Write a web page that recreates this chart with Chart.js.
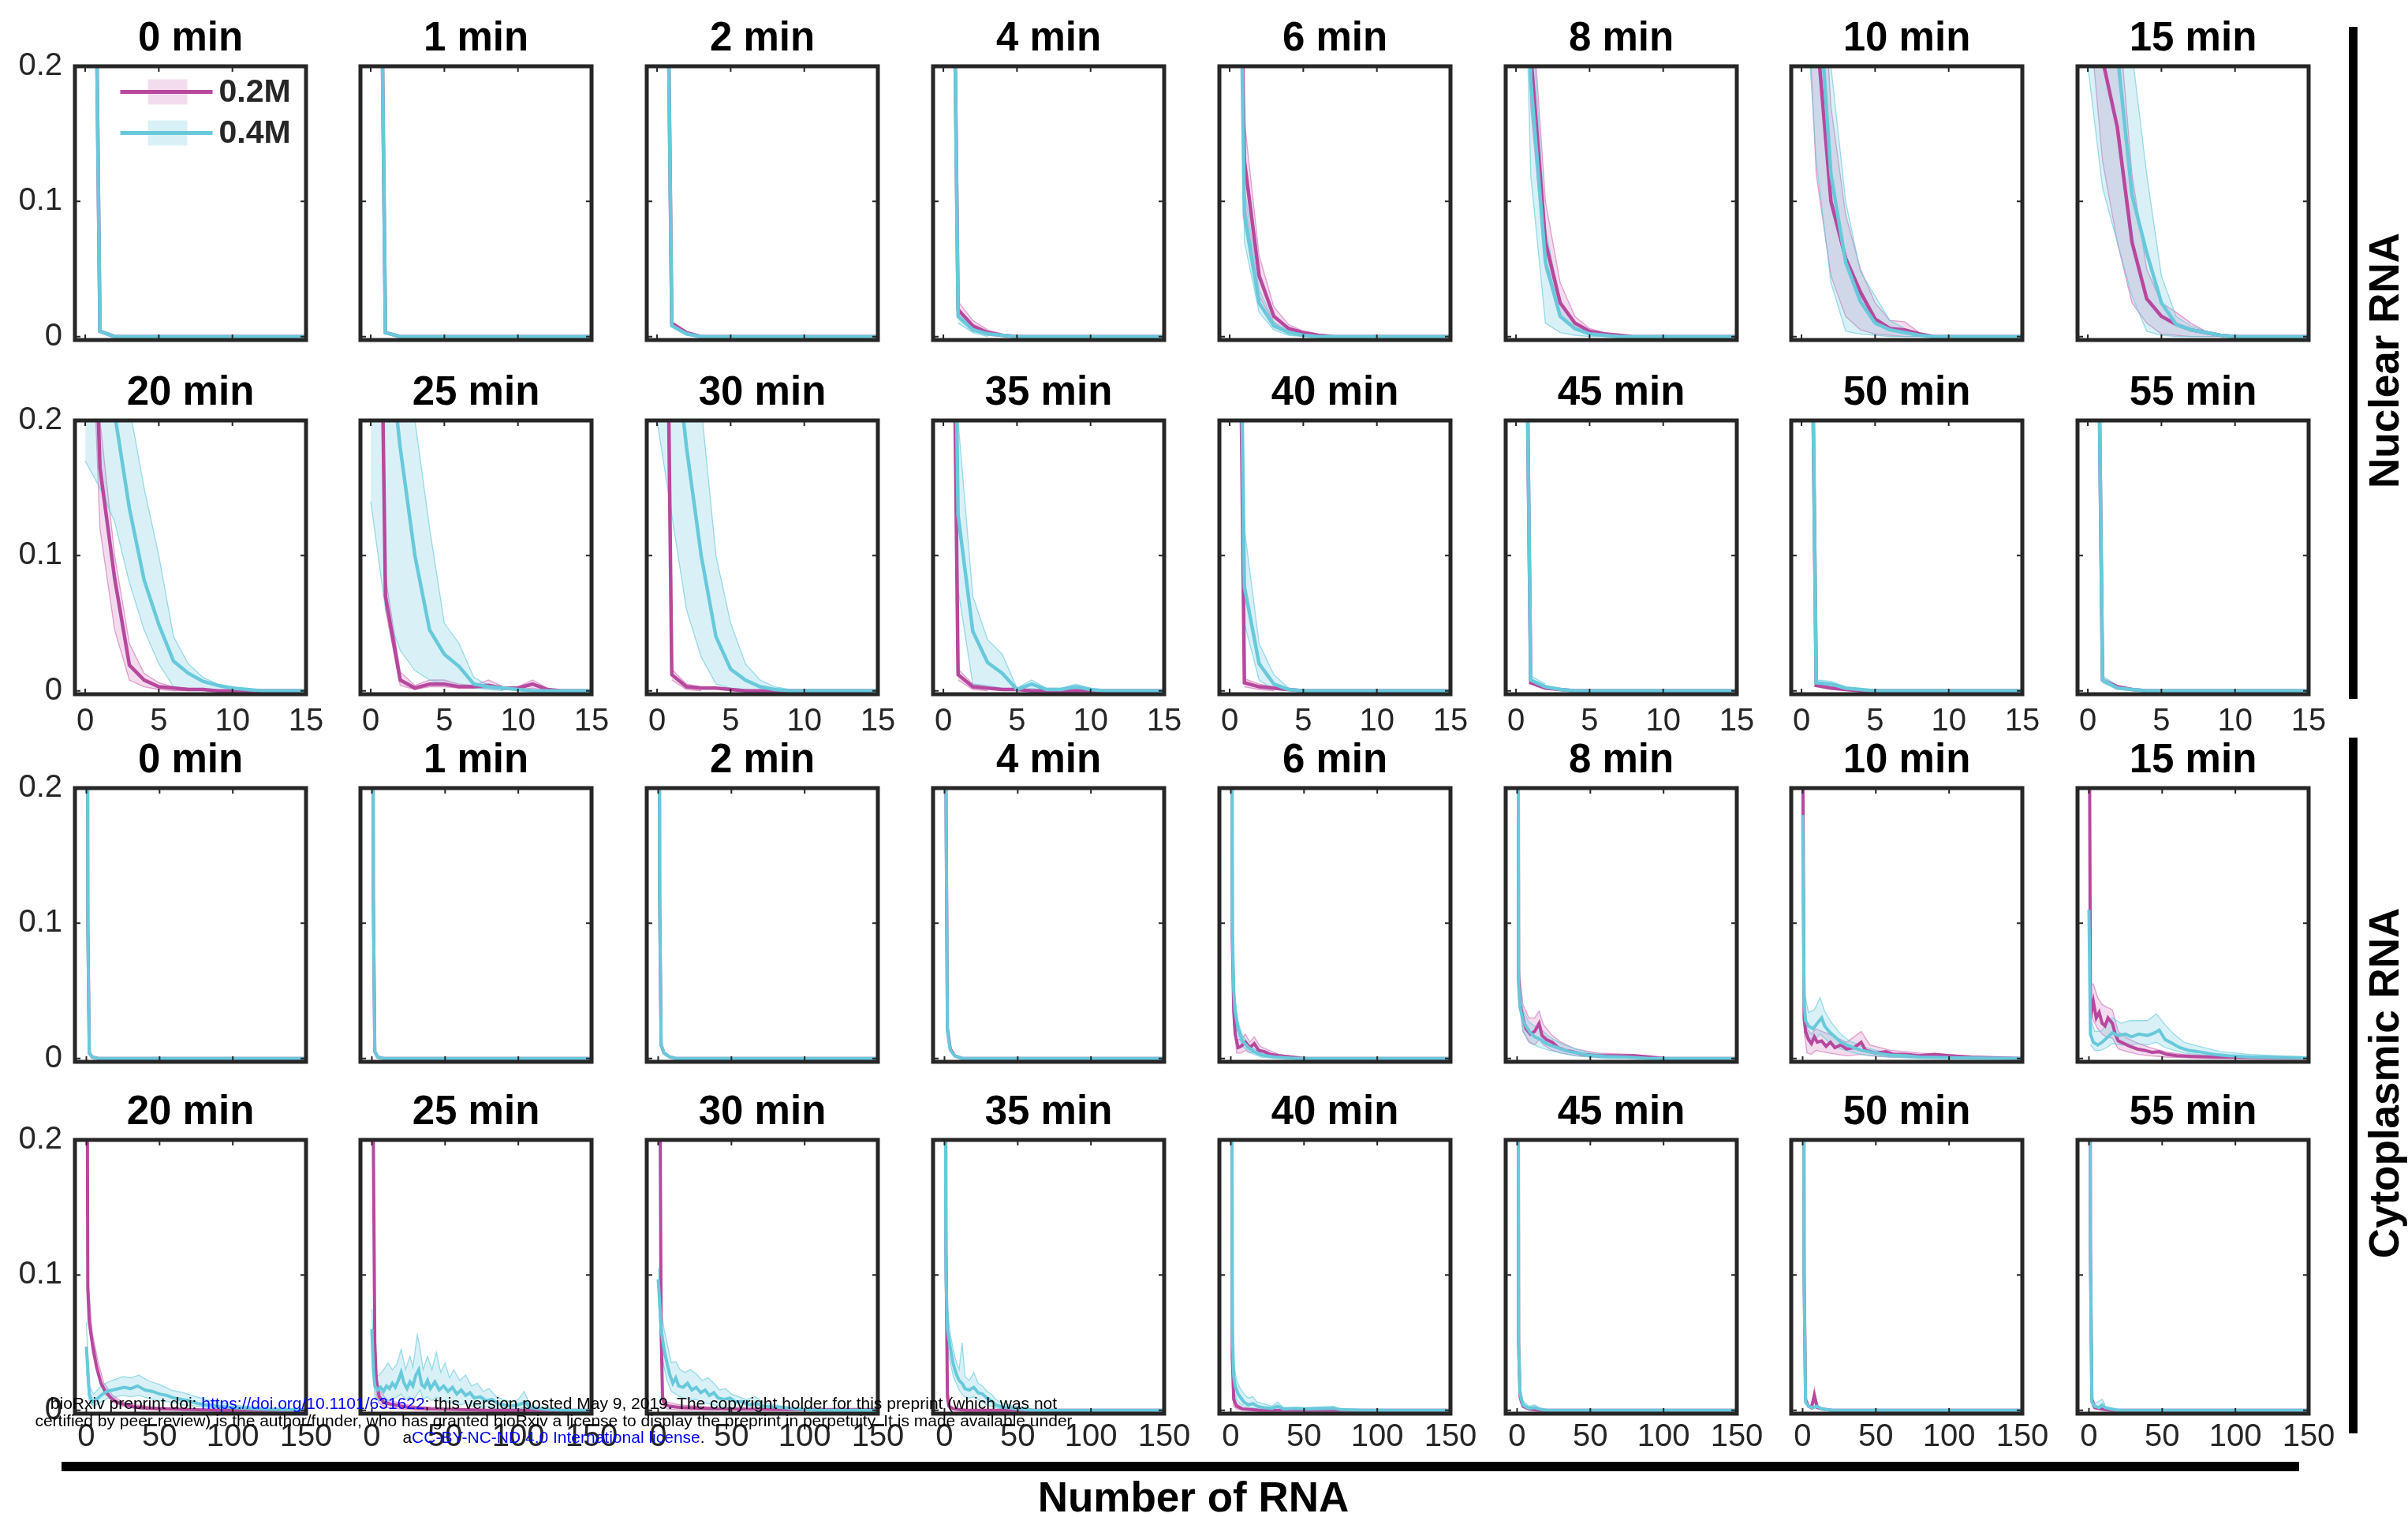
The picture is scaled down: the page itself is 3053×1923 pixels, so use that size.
<!DOCTYPE html>
<html>
<head>
<meta charset="utf-8">
<script src="https://cdn.jsdelivr.net/npm/chart.js@4.4.1/dist/chart.umd.min.js"></script>
<style>
  body { margin: 0; background: #fff; }
  #fig { position: relative; width: 3053px; height: 1923px; overflow: hidden; background: #fff;
         font-family: 'Liberation Sans', Arial, Helvetica, sans-serif; }
  #fig canvas { position: absolute; }
  .bar { position: absolute; background: #000; }
  .side { position: absolute; font-weight: bold; font-size: 53px; white-space: nowrap; color: #000;
          transform: translate(-50%, -50%) rotate(-90deg); }
  .xlabel { position: absolute; font-weight: bold; font-size: 53px; white-space: nowrap; color: #000;
            transform: translate(-50%, -50%); }
  .stamp { position: absolute; left: 0; width: 1404px; text-align: center; font-size: 21px; line-height: 21.5px;
           color: #000; white-space: nowrap; z-index: 5; }
  .stamp a { color: #0000ff; text-decoration: none; }
</style>
</head>
<body>
<div id="fig">
  <div class="bar" style="left:2978px;top:34px;width:11px;height:852px;"></div>
  <div class="side" style="left:3022px;top:457px;">Nuclear RNA</div>
  <div class="bar" style="left:2978px;top:935px;width:11px;height:882px;"></div>
  <div class="side" style="left:3022px;top:1373px;">Cytoplasmic RNA</div>
  <div class="bar" style="left:78px;top:1853px;width:2837px;height:12px;"></div>
  <div class="xlabel" style="left:1513px;top:1897px;">Number of RNA</div>
  <div class="stamp" style="top:1768px;">bioRxiv preprint doi: <a href="#">https://doi.org/10.1101/631622</a>; this version posted May 9, 2019. The copyright holder for this preprint (which was not<br>certified by peer review) is the author/funder, who has granted bioRxiv a license to display the preprint in perpetuity. It is made available under<br>a<a href="#">CC-BY-NC-ND 4.0 International license</a>.</div>
</div>
<script>
// panel titles, ticks, series names
var times = ['0 min','1 min','2 min','4 min','6 min','8 min','10 min','15 min',
             '20 min','25 min','30 min','35 min','40 min','45 min','50 min','55 min'];
var nucTicks = [0, 5, 10, 15];
var cytTicks = [0, 50, 100, 150];
var yTicks = [0, 0.1, 0.2];
var seriesNames = ['0.2M', '0.4M'];

// Nuclear RNA, mean curves as [x, y] (0.2M = A, 0.4M = B)
var nucMeanA = [
  [[0,0.99],[1,0.004],[2,0],[15,0]],
  [[0,0.99],[1,0.003],[2,0],[15,0]],
  [[0,0.98],[1,0.01],[2,0.003],[3,0],[15,0]],
  [[0,0.96],[1,0.02],[2,0.008],[3,0.003],[4,0.001],[5,0],[15,0]],
  [[0,0.75],[1,0.13],[2,0.045],[3,0.015],[4,0.006],[5,0.003],[6,0.001],[7,0],[15,0]],
  [[0,0.6],[1,0.21],[2,0.07],[3,0.025],[4,0.01],[5,0.004],[6,0.002],[7,0.001],[8,0],[15,0]],
  [[0,0.45],[1,0.23],[2,0.10],[3,0.058],[4,0.033],[5,0.013],[6,0.006],[7,0.005],[8,0.002],[9,0],[15,0]],
  [[0,0.3],[1,0.205],[2,0.155],[3,0.07],[4,0.028],[5,0.015],[6,0.009],[7,0.005],[8,0.003],[9,0.001],[10,0],[15,0]],
  [[0,0.5],[1,0.165],[2,0.083],[3,0.019],[4,0.008],[5,0.003],[6,0.002],[7,0.001],[8,0.001],[9,0],[15,0]],
  [[0,0.85],[1,0.07],[2,0.008],[3,0.002],[4,0.005],[5,0.005],[6,0.003],[7,0.003],[8,0.004],[9,0.002],[10,0.002],[11,0.005],[12,0.001],[13,0],[15,0]],
  [[0,0.95],[1,0.012],[2,0.003],[3,0.002],[4,0.002],[5,0.001],[6,0],[15,0]],
  [[0,0.95],[1,0.012],[2,0.003],[3,0.002],[4,0.001],[5,0.001],[6,0],[15,0]],
  [[0,0.97],[1,0.006],[2,0.003],[3,0.002],[4,0.001],[5,0],[15,0]],
  [[0,0.97],[1,0.006],[2,0.002],[3,0.001],[4,0],[15,0]],
  [[0,0.97],[1,0.004],[2,0.002],[3,0.001],[4,0],[15,0]],
  [[0,0.97],[1,0.008],[2,0.003],[3,0.001],[4,0],[15,0]]
];
var nucMeanB = [
  [[0,0.99],[1,0.004],[2,0],[15,0]],
  [[0,0.99],[1,0.003],[2,0],[15,0]],
  [[0,0.98],[1,0.008],[2,0.002],[3,0],[15,0]],
  [[0,0.97],[1,0.015],[2,0.005],[3,0.002],[4,0.001],[5,0],[15,0]],
  [[0,0.8],[1,0.09],[2,0.025],[3,0.008],[4,0.003],[5,0.001],[6,0],[15,0]],
  [[0,0.65],[1,0.19],[2,0.055],[3,0.015],[4,0.006],[5,0.002],[6,0.001],[7,0],[15,0]],
  [[0,0.4],[1,0.28],[2,0.12],[3,0.055],[4,0.026],[5,0.01],[6,0.005],[7,0.003],[8,0.001],[9,0],[15,0]],
  [[0,0.25],[1,0.3],[2,0.21],[3,0.105],[4,0.062],[5,0.025],[6,0.009],[7,0.005],[8,0.003],[9,0.001],[10,0],[15,0]],
  [[0,0.25],[1,0.28],[2,0.205],[3,0.135],[4,0.082],[5,0.049],[6,0.022],[7,0.013],[8,0.007],[9,0.004],[10,0.002],[11,0.001],[12,0],[15,0]],
  [[0,0.3],[1,0.28],[2,0.18],[3,0.1],[4,0.045],[5,0.027],[6,0.018],[7,0.005],[8,0.003],[9,0.002],[10,0.001],[11,0],[15,0]],
  [[0,0.3],[1,0.28],[2,0.18],[3,0.1],[4,0.04],[5,0.016],[6,0.008],[7,0.003],[8,0.001],[9,0],[15,0]],
  [[0,0.9],[1,0.13],[2,0.044],[3,0.021],[4,0.013],[5,0.001],[6,0.005],[7,0.001],[8,0.001],[9,0.003],[10,0.001],[11,0],[15,0]],
  [[0,0.9],[1,0.077],[2,0.02],[3,0.005],[4,0.001],[5,0],[15,0]],
  [[0,0.97],[1,0.008],[2,0.003],[3,0.001],[4,0],[15,0]],
  [[0,0.97],[1,0.006],[2,0.005],[3,0.002],[4,0.001],[5,0],[15,0]],
  [[0,0.97],[1,0.008],[2,0.002],[3,0.001],[4,0],[15,0]]
];
// Nuclear RNA, spread bands as [x, low, high]
var nucBandA = [
  [], [], [],
  [[1,0.015,0.026],[2,0.005,0.012],[3,0.001,0.005],[4,0,0.002]],
  [[0,0.7,0.8],[1,0.10,0.16],[2,0.03,0.06],[3,0.01,0.022],[4,0.003,0.009],[5,0.001,0.004],[6,0,0.002],[7,0,0.001]],
  [[0,0.55,0.65],[1,0.17,0.26],[2,0.05,0.10],[3,0.015,0.04],[4,0.005,0.015],[5,0.002,0.006],[6,0,0.003],[7,0,0.001]],
  [[0,0.35,0.55],[1,0.12,0.35],[2,0.045,0.17],[3,0.015,0.09],[4,0.005,0.05],[5,0.002,0.025],[6,0.001,0.012],[7,0,0.011],[8,0,0.003]],
  [[0,0.25,0.35],[1,0.13,0.3],[2,0.07,0.25],[3,0.025,0.12],[4,0.01,0.05],[5,0.002,0.025],[6,0.001,0.018],[7,0,0.01],[8,0,0.004],[9,0,0.002]],
  [[0,0.4,0.6],[1,0.12,0.2],[2,0.045,0.1],[3,0.008,0.035],[4,0.003,0.013],[5,0.001,0.006],[6,0,0.003],[7,0,0.002]],
  [[0,0.8,0.9],[1,0.06,0.085],[2,0.004,0.014],[3,0.001,0.004],[4,0.003,0.008],[5,0.003,0.008],[6,0.002,0.005],[7,0.002,0.004],[8,0.002,0.008],[9,0.001,0.003],[10,0.001,0.003],[11,0.002,0.008],[12,0,0.002]],
  [[1,0.008,0.016],[2,0.001,0.005],[3,0,0.003]],
  [[1,0.008,0.016],[2,0.001,0.005],[3,0,0.003]],
  [[1,0.003,0.009],[2,0.001,0.005],[3,0,0.003]],
  [], [], []
];
var nucBandB = [
  [], [], [],
  [[1,0.01,0.02],[2,0.003,0.008],[3,0,0.004]],
  [[0,0.75,0.85],[1,0.07,0.11],[2,0.018,0.035],[3,0.005,0.011],[4,0.001,0.004],[5,0,0.002]],
  [[0,0.55,0.75],[1,0.12,0.25],[2,0.01,0.08],[3,0.003,0.025],[4,0.001,0.01],[5,0,0.004],[6,0,0.002]],
  [[0,0.3,0.5],[1,0.13,0.4],[2,0.04,0.2],[3,0.004,0.1],[4,0.002,0.048],[5,0.001,0.03],[6,0,0.012],[7,0,0.006],[8,0,0.002]],
  [[0,0.2,0.3],[1,0.11,0.4],[2,0.07,0.35],[3,0.03,0.21],[4,0.004,0.12],[5,0.001,0.045],[6,0,0.015],[7,0,0.008],[8,0,0.004],[9,0,0.002]],
  [[0,0.17,0.4],[1,0.15,0.4],[2,0.125,0.3],[3,0.08,0.21],[4,0.045,0.15],[5,0.02,0.1],[6,0.003,0.04],[7,0.001,0.02],[8,0,0.01],[9,0,0.005],[10,0,0.003],[11,0,0.001]],
  [[0,0.14,0.5],[1,0.06,0.5],[2,0.03,0.35],[3,0.015,0.2],[4,0.008,0.12],[5,0.005,0.05],[6,0.003,0.035],[7,0.002,0.01],[8,0.001,0.004],[9,0,0.002]],
  [[0,0.2,0.45],[1,0.13,0.45],[2,0.06,0.3],[3,0.025,0.21],[4,0.005,0.1],[5,0.002,0.05],[6,0.001,0.02],[7,0,0.008],[8,0,0.003],[9,0,0.001]],
  [[0,0.85,0.95],[1,0.075,0.2],[2,0.005,0.07],[3,0.004,0.038],[4,0.002,0.027],[5,0,0.002],[6,0.002,0.008],[7,0,0.002],[8,0,0.002],[9,0.001,0.005],[10,0,0.002]],
  [[0,0.88,0.92],[1,0.05,0.12],[2,0.008,0.035],[3,0.001,0.012],[4,0,0.002]],
  [[1,0.005,0.011],[2,0.001,0.005]],
  [[1,0.004,0.008],[2,0.003,0.007],[3,0.001,0.003]],
  [[1,0.006,0.011],[2,0.001,0.004]]
];

// Cytoplasmic RNA, mean curves as [x, y]
var cytMeanA = [
  [[0,0.97],[1,0.1],[2,0.004],[4,0.001],[8,0],[150,0]],
  [[0,0.96],[1,0.12],[2,0.005],[4,0.001],[8,0],[150,0]],
  [[0,0.95],[1,0.12],[2,0.01],[4,0.004],[8,0.001],[12,0],[150,0]],
  [[0,0.9],[1,0.2],[2,0.022],[4,0.007],[7,0.002],[12,0],[150,0]],
  [[0,0.9],[1,0.09],[2,0.035],[3,0.018],[5,0.008],[7,0.009],[10,0.012],[13,0.008],[16,0.011],[19,0.006],[23,0.005],[27,0.003],[33,0.002],[42,0.001],[50,0],[150,0]],
  [[0,0.85],[1,0.06],[2,0.04],[4,0.03],[6,0.022],[9,0.018],[12,0.02],[15,0.026],[17,0.017],[20,0.014],[24,0.012],[28,0.008],[33,0.006],[38,0.005],[45,0.003],[55,0.002],[65,0.002],[80,0.002],[90,0.001],[100,0],[150,0]],
  [[0,0.25],[1,0.03],[2,0.02],[4,0.014],[6,0.011],[8,0.016],[10,0.012],[13,0.013],[16,0.009],[19,0.012],[22,0.008],[26,0.01],[30,0.007],[35,0.008],[40,0.012],[43,0.006],[50,0.004],[57,0.005],[62,0.003],[70,0.003],[80,0.002],[90,0.003],[100,0.002],[115,0.001],[130,0.0005],[150,0]],
  [[0,0.35],[1,0.045],[2,0.036],[3,0.042],[5,0.03],[7,0.034],[9,0.026],[11,0.024],[13,0.03],[16,0.026],[18,0.018],[20,0.013],[24,0.011],[28,0.009],[33,0.007],[38,0.006],[43,0.0045],[48,0.005],[53,0.003],[60,0.002],[70,0.0015],[85,0.001],[100,0.0008],[120,0.0005],[150,0.0003]],
  [[0,0.5],[1,0.09],[2,0.065],[4,0.05],[7,0.032],[10,0.02],[13,0.014],[17,0.009],[21,0.006],[27,0.004],[33,0.0025],[42,0.0015],[55,0.001],[70,0.0005],[90,0],[150,0]],
  [[0,0.8],[1,0.2],[2,0.05],[3,0.022],[5,0.01],[8,0.006],[13,0.0045],[20,0.003],[26,0.002],[40,0.001],[60,0.0005],[80,0],[150,0]],
  [[0,0.9],[1,0.3],[2,0.06],[3,0.008],[5,0.004],[8,0.003],[15,0.002],[40,0.001],[80,0.0005],[150,0.0005]],
  [[0,0.9],[1,0.12],[2,0.01],[3,0.003],[6,0.001],[15,0],[150,0]],
  [[0,0.7],[1,0.04],[2,0.008],[4,0.003],[8,0.001],[20,0],[150,0]],
  [[0,0.95],[1,0.05],[2,0.01],[4,0.003],[8,0.001],[15,0],[150,0]],
  [[0,0.95],[1,0.1],[2,0.008],[4,0.003],[6,0.002],[8,0.011],[10,0.002],[13,0.001],[20,0],[150,0]],
  [[0,0.95],[1,0.12],[2,0.008],[4,0.002],[8,0.001],[15,0],[150,0]]
];
var cytMeanB = [
  [[0,0.97],[1,0.1],[2,0.004],[4,0.001],[8,0],[150,0]],
  [[0,0.96],[1,0.12],[2,0.005],[4,0.001],[8,0],[150,0]],
  [[0,0.95],[1,0.12],[2,0.01],[4,0.004],[8,0.001],[12,0],[150,0]],
  [[0,0.9],[1,0.2],[2,0.02],[4,0.006],[7,0.002],[12,0],[150,0]],
  [[0,0.9],[1,0.1],[2,0.05],[3,0.035],[5,0.022],[8,0.013],[12,0.008],[16,0.005],[21,0.0025],[30,0.001],[45,0],[150,0]],
  [[0,0.85],[1,0.055],[2,0.038],[4,0.028],[6,0.024],[9,0.019],[12,0.016],[16,0.014],[20,0.011],[25,0.009],[30,0.007],[36,0.005],[42,0.004],[48,0.0025],[60,0.0015],[75,0.001],[90,0],[150,0]],
  [[0,0.18],[1,0.04],[2,0.028],[4,0.024],[7,0.022],[10,0.026],[13,0.03],[15,0.024],[18,0.02],[22,0.016],[26,0.012],[30,0.01],[35,0.008],[40,0.006],[50,0.004],[60,0.0025],[70,0.002],[80,0.001],[100,0.0005],[150,0]],
  [[0,0.11],[1,0.018],[3,0.012],[6,0.01],[9,0.012],[12,0.015],[16,0.019],[20,0.017],[25,0.018],[29,0.016],[34,0.018],[40,0.017],[45,0.019],[48,0.021],[52,0.014],[57,0.011],[62,0.008],[68,0.006],[75,0.005],[85,0.003],[95,0.002],[110,0.0012],[125,0.0008],[150,0.0004]],
  [[0,0.047],[1,0.03],[2,0.012],[4,0.006],[7,0.008],[10,0.011],[14,0.014],[18,0.015],[22,0.016],[26,0.017],[30,0.016],[35,0.018],[40,0.015],[45,0.014],[50,0.012],[55,0.011],[60,0.009],[65,0.008],[70,0.007],[76,0.005],[82,0.004],[90,0.003],[100,0.002],[115,0.001],[130,0.0006],[150,0.0003]],
  [[0,0.06],[1,0.03],[2,0.018],[4,0.015],[6,0.017],[8,0.014],[10,0.018],[12,0.016],[14,0.02],[16,0.017],[18,0.022],[20,0.028],[22,0.02],[24,0.016],[26,0.021],[28,0.018],[30,0.026],[32,0.03],[34,0.019],[36,0.017],[38,0.022],[40,0.016],[43,0.021],[46,0.015],[49,0.018],[52,0.014],[55,0.017],[58,0.012],[61,0.015],[64,0.011],[67,0.013],[70,0.009],[74,0.01],[78,0.007],[82,0.008],[86,0.005],[90,0.004],[95,0.003],[100,0.004],[105,0.006],[108,0.002],[115,0.001],[130,0],[150,0]],
  [[0,0.097],[1,0.08],[2,0.06],[4,0.045],[6,0.035],[8,0.026],[10,0.02],[12,0.024],[14,0.018],[17,0.017],[20,0.02],[23,0.015],[26,0.017],[29,0.013],[32,0.015],[35,0.011],[38,0.013],[41,0.009],[45,0.008],[49,0.009],[53,0.006],[57,0.0065],[62,0.004],[67,0.005],[72,0.003],[78,0.0025],[85,0.002],[95,0.001],[110,0],[150,0]],
  [[0,0.5],[1,0.1],[2,0.06],[4,0.046],[6,0.034],[8,0.027],[10,0.022],[12,0.02],[14,0.016],[17,0.015],[20,0.017],[23,0.013],[26,0.012],[29,0.009],[32,0.007],[35,0.004],[38,0.003],[42,0.002],[50,0.001],[60,0],[150,0]],
  [[0,0.8],[1,0.06],[2,0.025],[3,0.018],[5,0.012],[7,0.009],[9,0.006],[12,0.004],[15,0.005],[18,0.003],[22,0.002],[28,0.0015],[32,0.003],[36,0.001],[45,0.0015],[52,0.001],[70,0.0015],[75,0.0005],[90,0],[150,0]],
  [[0,0.95],[1,0.05],[2,0.012],[4,0.004],[8,0.0015],[12,0.002],[15,0.001],[20,0],[150,0]],
  [[0,0.95],[1,0.1],[2,0.006],[4,0.003],[7,0.002],[10,0.003],[13,0.001],[20,0],[150,0]],
  [[0,0.95],[1,0.12],[2,0.006],[4,0.003],[7,0.002],[9,0.004],[11,0.002],[15,0.001],[20,0],[150,0]]
];
// Cytoplasmic RNA, spread bands as [x, low, high]
var cytBandA = [
  [], [], [], [],
  [[1,0.07,0.11],[2,0.025,0.045],[4,0.004,0.014],[7,0.004,0.014],[10,0.006,0.018],[13,0.004,0.012],[16,0.005,0.016],[20,0.003,0.009],[26,0.002,0.006],[33,0.001,0.003],[45,0,0.001]],
  [[1,0.05,0.07],[4,0.02,0.04],[8,0.012,0.03],[12,0.01,0.03],[15,0.014,0.035],[18,0.01,0.025],[24,0.006,0.017],[30,0.004,0.012],[40,0.002,0.007],[55,0.001,0.004],[80,0.001,0.003],[100,0,0.001]],
  [[1,0.02,0.04],[3,0.004,0.022],[6,0.003,0.018],[9,0.006,0.022],[13,0.005,0.02],[18,0.004,0.018],[24,0.003,0.015],[30,0.002,0.012],[40,0.003,0.02],[46,0.002,0.01],[60,0.001,0.006],[80,0.0005,0.004],[100,0,0.003],[120,0,0.001]],
  [[0,0.3,0.4],[1,0.035,0.055],[3,0.028,0.055],[6,0.022,0.045],[9,0.018,0.04],[12,0.016,0.038],[16,0.015,0.036],[20,0.007,0.02],[26,0.005,0.015],[34,0.003,0.011],[42,0.002,0.008],[52,0.001,0.005],[65,0.0005,0.003],[85,0,0.002],[110,0,0.0015],[150,0,0.0008]],
  [[1,0.08,0.1],[4,0.043,0.058],[8,0.025,0.036],[12,0.013,0.02],[18,0.006,0.011],[25,0.003,0.006],[35,0.001,0.004],[50,0,0.002],[70,0,0.001]],
  [[1,0.15,0.25],[2,0.035,0.065],[3,0.012,0.03],[5,0.005,0.015],[10,0.002,0.008],[20,0.001,0.005],[30,0,0.003],[50,0,0.0015]],
  [[2,0.045,0.075],[3,0.004,0.012],[6,0.001,0.006],[15,0,0.004],[40,0,0.002]],
  [[1,0.09,0.15],[2,0.004,0.016],[4,0,0.005]],
  [[1,0.02,0.06],[2,0.003,0.013],[4,0.001,0.005],[8,0,0.002]],
  [],
  [[6,0.001,0.003],[8,0.006,0.016],[10,0.001,0.003]],
  []
];
var cytBandB = [
  [], [], [], [],
  [[1,0.08,0.12],[2,0.04,0.06],[3,0.028,0.042],[5,0.017,0.027],[8,0.009,0.017],[12,0.005,0.011],[16,0.003,0.007],[21,0.001,0.004],[30,0,0.002]],
  [[1,0.045,0.065],[4,0.02,0.036],[8,0.013,0.027],[12,0.01,0.024],[16,0.008,0.022],[22,0.006,0.016],[30,0.004,0.011],[40,0.002,0.007],[50,0.001,0.004],[60,0,0.003],[80,0,0.001]],
  [[1,0.03,0.05],[4,0.015,0.034],[8,0.014,0.036],[12,0.018,0.045],[15,0.015,0.035],[20,0.01,0.026],[26,0.007,0.018],[32,0.005,0.013],[40,0.003,0.009],[50,0.002,0.006],[60,0.001,0.004],[80,0,0.002],[100,0,0.001]],
  [[1,0.01,0.03],[4,0.006,0.02],[8,0.006,0.02],[12,0.008,0.025],[16,0.011,0.03],[22,0.01,0.026],[28,0.01,0.028],[34,0.011,0.028],[40,0.01,0.028],[46,0.012,0.033],[52,0.008,0.025],[58,0.006,0.018],[65,0.004,0.012],[75,0.003,0.009],[90,0.001,0.005],[110,0.0005,0.003],[130,0,0.002],[150,0,0.001]],
  [[0,0.03,0.065],[2,0.006,0.018],[5,0.003,0.012],[10,0.006,0.018],[15,0.009,0.021],[20,0.01,0.023],[25,0.011,0.025],[30,0.01,0.024],[36,0.011,0.026],[42,0.009,0.022],[50,0.007,0.019],[58,0.006,0.015],[66,0.004,0.013],[75,0.003,0.01],[85,0.002,0.007],[100,0.001,0.004],[120,0,0.002],[150,0,0.001]],
  [[0,0.045,0.075],[2,0.01,0.025],[5,0.007,0.026],[8,0.008,0.03],[11,0.006,0.035],[14,0.008,0.03],[17,0.01,0.034],[20,0.012,0.045],[23,0.008,0.03],[26,0.01,0.04],[28,0.007,0.032],[31,0.012,0.056],[33,0.015,0.045],[35,0.008,0.03],[38,0.01,0.04],[41,0.007,0.03],[44,0.01,0.043],[47,0.006,0.028],[50,0.008,0.035],[53,0.005,0.024],[56,0.007,0.03],[60,0.004,0.022],[64,0.005,0.026],[68,0.003,0.018],[72,0.004,0.02],[76,0.002,0.014],[80,0.003,0.016],[85,0.001,0.01],[90,0.001,0.008],[95,0.001,0.006],[100,0.001,0.008],[104,0.002,0.014],[108,0,0.004],[115,0,0.002],[125,0,0.001]],
  [[0,0.085,0.105],[2,0.045,0.075],[4,0.032,0.06],[6,0.022,0.05],[9,0.014,0.035],[12,0.012,0.036],[15,0.01,0.03],[18,0.009,0.028],[22,0.008,0.03],[26,0.008,0.027],[30,0.006,0.022],[34,0.005,0.024],[38,0.004,0.02],[42,0.003,0.015],[46,0.002,0.016],[50,0.002,0.012],[55,0.001,0.01],[60,0.001,0.008],[66,0,0.01],[72,0,0.006],[80,0,0.004],[90,0,0.002]],
  [[1,0.08,0.13],[2,0.045,0.075],[4,0.035,0.056],[6,0.025,0.045],[8,0.02,0.036],[10,0.015,0.03],[12,0.012,0.05],[14,0.01,0.025],[17,0.009,0.022],[20,0.01,0.028],[23,0.008,0.02],[26,0.006,0.018],[29,0.004,0.014],[32,0.003,0.012],[35,0.002,0.008],[40,0.001,0.005],[48,0,0.003],[60,0,0.001]],
  [[1,0.04,0.1],[2,0.015,0.035],[4,0.008,0.022],[6,0.005,0.017],[9,0.003,0.012],[12,0.002,0.009],[15,0.002,0.01],[18,0.001,0.006],[22,0,0.005],[28,0,0.003],[32,0,0.006],[36,0,0.002],[50,0,0.002],[70,0,0.003],[75,0,0.001]],
  [[1,0.03,0.07],[2,0.006,0.018],[4,0.002,0.007],[8,0,0.003],[12,0,0.004],[15,0,0.002]],
  [],
  [[1,0.1,0.14],[2,0.003,0.01],[4,0.001,0.005],[9,0.001,0.008],[11,0,0.004]]
];

// look
var FONT = "'Liberation Sans', Arial, Helvetica, sans-serif";
var AXIS = '#262626';
var magenta = 'rgb(183,72,158)';
var magentaFill = 'rgba(196,80,165,0.2)';
var magentaEdge = 'rgba(196,80,165,0.5)';
var cyan = 'rgb(104,201,219)';
var cyanFill = 'rgba(104,201,219,0.25)';
var cyanEdge = 'rgba(104,201,219,0.65)';

// panel frame geometry (frame centre line)
var colLeft0 = 94.5, colStep = 362.8;
var rowTops = [83.5, 532.5, 998.5, 1444.5];
var frameW = 293, frameH = 347;
var padL = 95, padT = 70, padR = 95, padB = 62;

var framePlugin = {
  id: 'frame',
  afterDatasetsDraw: function(chart, args, opts) {
    var ctx = chart.ctx, a = chart.chartArea, xs = chart.scales.x, ys = chart.scales.y;
    ctx.save();
    ctx.strokeStyle = AXIS;
    ctx.lineWidth = 2;
    ctx.beginPath();
    opts.xTicks.forEach(function(v) {
      var px = xs.getPixelForValue(v);
      if (px > a.right - 4) return;
      ctx.moveTo(px, a.bottom); ctx.lineTo(px, a.bottom - 7);
      ctx.moveTo(px, a.top); ctx.lineTo(px, a.top + 7);
    });
    yTicks.forEach(function(v) {
      var py = ys.getPixelForValue(v);
      if (py < a.top + 4) return;
      ctx.moveTo(a.left, py); ctx.lineTo(a.left + 7, py);
      ctx.moveTo(a.right, py); ctx.lineTo(a.right - 7, py);
    });
    ctx.stroke();
    ctx.lineWidth = 5;
    ctx.strokeRect(a.left, a.top, a.width, a.height);

    if (opts.legend) {
      var rows = [[magentaFill, magenta, 32.5], [cyanFill, cyan, 84.5]];
      rows.forEach(function(r, k) {
        var cy = a.top + r[2];
        ctx.fillStyle = r[0];
        ctx.fillRect(a.left + 92.5, cy - 16, 50, 32);
        ctx.strokeStyle = r[1];
        ctx.lineWidth = 5;
        ctx.beginPath();
        ctx.moveTo(a.left + 57.5, cy); ctx.lineTo(a.left + 174.5, cy);
        ctx.stroke();
        ctx.fillStyle = AXIS;
        ctx.font = 'bold 41px ' + FONT;
        ctx.textBaseline = 'middle';
        ctx.textAlign = 'left';
        ctx.fillText(seriesNames[k], a.left + 182.5, cy + 1);
      });
    }
    ctx.restore();
  }
};

function pts(list, idx) {
  return list.map(function(p) { return {x: p[0], y: p[idx]}; });
}

function lineSet(data, color, width) {
  return {data: pts(data, 1), borderColor: color, borderWidth: width, pointRadius: 0,
          fill: false, tension: 0};
}

function bandSets(band, fillColor, edgeColor) {
  return [
    {data: pts(band, 2), borderColor: edgeColor, borderWidth: 1.3, pointRadius: 0,
     backgroundColor: fillColor, fill: '+1', tension: 0},
    {data: pts(band, 1), borderColor: edgeColor, borderWidth: 1.3, pointRadius: 0,
     fill: false, tension: 0}
  ];
}

var fig = document.getElementById('fig');

for (var i = 0; i < 32; i++) {
  (function(i) {
    var row = Math.floor(i / 8), col = i % 8;
    var nuc = row < 2;
    var k = nuc ? i : i - 16;
    var meanA = nuc ? nucMeanA[k] : cytMeanA[k];
    var meanB = nuc ? nucMeanB[k] : cytMeanB[k];
    var bandA = nuc ? nucBandA[k] : cytBandA[k];
    var bandB = nuc ? nucBandB[k] : cytBandB[k];
    var xt = nuc ? nucTicks : cytTicks;
    var showX = (row === 1 || row === 3);
    var lw = nuc ? 4.5 : 4;

    var left = colLeft0 + colStep * col, top = rowTops[row];
    var cv = document.createElement('canvas');
    cv.width = padL + frameW + padR;
    cv.height = padT + frameH + padB;
    cv.style.left = Math.round(left - padL) + 'px';
    cv.style.top = Math.round(top - padT) + 'px';
    fig.appendChild(cv);

    var datasets = [lineSet(meanB, cyan, lw), lineSet(meanA, magenta, lw)]
      .concat(bandSets(bandB, cyanFill, cyanEdge))
      .concat(bandSets(bandA, magentaFill, magentaEdge));

    new Chart(cv, {
      type: 'line',
      data: {datasets: datasets},
      plugins: [framePlugin],
      options: {
        responsive: false,
        animation: false,
        devicePixelRatio: 1,
        layout: {padding: 0},
        scales: {
          x: {
            type: 'linear', position: 'bottom',
            min: nuc ? -0.7 : -7.8, max: xt[xt.length - 1],
            grid: {display: false}, border: {display: false},
            afterBuildTicks: function(s) { s.ticks = xt.map(function(v) { return {value: v}; }); },
            afterFit: function(s) { s.height = padB; },
            ticks: {display: showX, autoSkip: false, maxRotation: 0, padding: row === 1 ? 3 : -2,
                    color: AXIS, font: {family: FONT, size: 40},
                    callback: function(v) { return String(v); }}
          },
          y: {
            type: 'linear', position: 'left',
            min: -0.0025, max: 0.2,
            grid: {display: false}, border: {display: false},
            afterBuildTicks: function(s) { s.ticks = yTicks.map(function(v) { return {value: v}; }); },
            afterFit: function(s) { s.width = padL; },
            ticks: {display: col === 0, padding: 8, color: AXIS, font: {family: FONT, size: 40},
                    callback: function(v) { return String(v); }}
          },
          // empty right-hand axis that only keeps the frame centred under the title
          yRight: {
            type: 'linear', position: 'right', min: 0, max: 1,
            grid: {display: false}, border: {display: false},
            ticks: {display: false},
            afterFit: function(s) { s.width = padR; }
          }
        },
        plugins: {
          legend: {display: false},
          tooltip: {enabled: false},
          title: {display: true, text: times[k], color: '#000',
                  font: {family: FONT, size: 51, weight: 'bold', lineHeight: '56px'},
                  padding: {top: 8, bottom: 6}},
          frame: {xTicks: xt, legend: i === 0}
        }
      }
    });
  })(i);
}
</script>
</body>
</html>
